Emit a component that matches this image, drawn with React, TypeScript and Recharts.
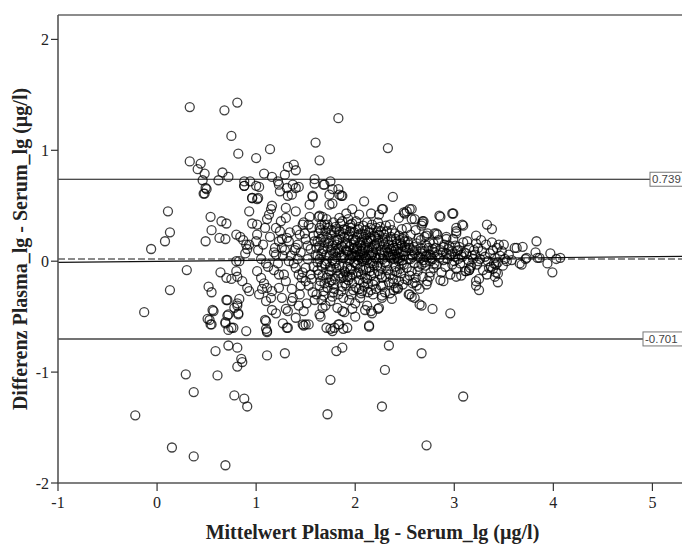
import { ScatterChart, Scatter, XAxis, YAxis, ReferenceLine, Label } from 'recharts';

const serif = '"Liberation Serif", "Times New Roman", serif';
const sans = '"Liberation Sans", Arial, sans-serif';

const xTicks = [-1, 0, 1, 2, 3, 4, 5];
const yTicks = [-2, -1, 0, 1, 2];
const upperLimit = 0.739;
const lowerLimit = -0.701;
const meanDiff = 0.019;
const regressionStart = { x: -1, y: -0.01 };
const regressionEnd = { x: 5.45, y: 0.045 };

const xTitle = 'Mittelwert Plasma_lg - Serum_lg (µg/l)';
const yTitle = 'Differenz Plasma_lg - Serum_lg (µg/l)';

// [mittelwert, differenz]
const outliersHigh = [
  [0.33, 1.39], [0.68, 1.36], [0.81, 1.43], [1.83, 1.29], [0.75, 1.13], [1.6, 1.07], [1.14, 1.01],
  [2.33, 1.02], [0.82, 0.97], [1.0, 0.93], [1.64, 0.91], [0.33, 0.9], [0.44, 0.88], [0.41, 0.83],
  [0.48, 0.79], [0.66, 0.8], [0.72, 0.76], [0.46, 0.73], [0.62, 0.73], [0.5, 0.65], [0.48, 0.61],
  [1.08, 0.79], [1.16, 0.76], [1.32, 0.85], [1.38, 0.87], [1.4, 0.82], [1.29, 0.78], [1.22, 0.72],
  [1.24, 0.63], [1.03, 0.67], [0.88, 0.72], [0.94, 0.72], [0.88, 0.68], [0.96, 0.57], [1.02, 0.57],
  [1.43, 0.67], [1.37, 0.69], [1.32, 0.59], [1.59, 0.74], [1.68, 0.69], [1.75, 0.72], [1.83, 0.65],
  [1.57, 0.58], [2.38, 0.58], [1.74, 0.6], [1.87, 0.59], [0.47, 0.61], [0.49, 0.66], [1.0, 0.68],
];

const outliersLow = [
  [-0.22, -1.39], [0.15, -1.68], [0.37, -1.76], [0.69, -1.84], [0.29, -1.02], [0.37, -1.18],
  [0.61, -1.03], [0.78, -1.21], [0.88, -1.24], [0.91, -1.31], [0.59, -0.81], [0.72, -0.76],
  [0.81, -0.78], [0.85, -0.88], [0.86, -0.91], [0.81, -0.95], [1.11, -0.85], [1.29, -0.83],
  [1.75, -1.07], [1.72, -1.38], [1.81, -0.81], [1.87, -0.78], [2.34, -0.76], [2.3, -0.98],
  [2.27, -1.31], [2.67, -0.83], [2.72, -1.66], [3.09, -1.22],
];

const leftScatter = [
  [-0.06, 0.11], [0.11, 0.45], [0.13, 0.26], [0.08, 0.18], [0.3, -0.08], [0.13, -0.26], [-0.13, -0.46],
  [0.54, 0.4], [0.55, 0.28], [0.49, 0.18], [0.65, 0.36], [0.7, 0.34], [0.63, 0.21], [0.69, 0.2],
  [0.8, 0.24], [0.84, 0.22], [0.87, 0.19], [0.9, 0.15], [0.91, 0.11], [0.89, 0.07], [0.8, 0.0],
  [0.83, 0.0], [0.64, -0.1], [0.7, -0.15], [0.75, -0.16], [0.8, -0.09], [0.81, -0.14], [0.52, -0.23],
  [0.55, -0.28], [0.71, -0.35], [0.81, -0.4], [0.83, -0.34], [0.78, -0.42], [0.57, -0.45], [0.51, -0.52],
  [0.54, -0.57], [0.69, -0.55], [0.72, -0.48], [0.75, -0.6], [0.82, -0.48], [0.9, -0.63], [0.93, -0.27],
  [0.91, -0.24], [0.86, -0.18], [0.93, 0.45], [0.96, 0.57], [1.01, 0.56], [0.88, 0.68], [0.96, 0.34],
  [1.01, 0.33], [1.01, 0.24], [1.0, 0.18], [0.93, 0.15], [0.56, -0.44], [0.53, -0.53], [0.55, -0.57],
  [0.7, -0.35], [0.71, -0.49], [0.69, -0.56], [0.72, -0.62], [0.77, -0.6], [0.82, -0.47], [0.81, -0.38],
];

const band1to16 = [
  [1.01, -0.09], [1.05, -0.15], [1.1, -0.02], [1.08, -0.2], [1.11, -0.24], [1.03, -0.3], [1.1, -0.36],
  [1.16, -0.27], [1.2, -0.47], [1.1, -0.54], [1.11, -0.63], [1.3, -0.43], [1.32, -0.6], [1.4, -0.51],
  [1.47, -0.57], [1.48, -0.45], [1.36, -0.36], [1.26, -0.33], [1.23, -0.24], [1.13, 0.42], [1.15, 0.47],
  [1.16, 0.5], [1.11, 0.38], [1.2, 0.3], [1.25, 0.36], [1.3, 0.39], [1.31, 0.21], [1.23, 0.18],
  [1.26, 0.12], [1.2, 0.06], [1.33, 0.0], [1.4, 0.12], [1.44, 0.24], [1.47, 0.33], [1.4, 0.45],
  [1.3, 0.48], [1.36, 0.6], [1.4, 0.66], [1.23, 0.69], [1.31, 0.66], [1.23, -0.12], [1.3, -0.18],
  [1.43, -0.12], [1.5, -0.18], [1.5, -0.06], [1.4, -0.06], [1.11, -0.64], [1.1, -0.61], [1.09, -0.53],
  [1.16, -0.44], [1.31, -0.6], [1.27, -0.56], [1.32, -0.45], [1.48, -0.58], [1.53, -0.57],
  [1.02, 0.1], [1.05, 0.02], [1.07, 0.15], [1.12, -0.05], [1.14, 0.22], [1.18, 0.08], [1.22, -0.02],
  [1.26, 0.2], [1.28, -0.12], [1.19, 0.12], [1.24, 0.27], [1.06, -0.25], [1.15, -0.33], [1.27, 0.05],
  [1.09, 0.3], [1.35, 0.05], [1.38, -0.02], [1.42, 0.15], [1.45, 0.08], [1.47, -0.1], [1.5, 0.2],
  [1.52, 0.02], [1.53, -0.22], [1.55, 0.11], [1.56, 0.3], [1.58, -0.05], [1.59, 0.18], [1.36, -0.25],
  [1.41, 0.28], [1.44, -0.3], [1.48, 0.35], [1.51, -0.38], [1.54, 0.4], [1.57, -0.28], [1.6, 0.06],
  [1.33, 0.18], [1.39, 0.1], [1.46, -0.15], [1.49, 0.25], [1.55, -0.12], [1.58, 0.23], [1.37, -0.33],
  [1.43, -0.4], [1.53, 0.33], [1.59, -0.35], [1.54, 0.51], [1.57, 0.59], [1.59, 0.7],
  [1.18, -0.08], [1.34, 0.26], [1.45, -0.22], [1.52, 0.14], [1.56, -0.16], [1.29, 0.1], [1.42, 0.02],
];

const band16to19 = [
  [1.61, 0.12], [1.62, -0.08], [1.63, 0.25], [1.64, 0.02], [1.65, -0.18], [1.66, 0.33], [1.67, 0.09],
  [1.68, -0.27], [1.69, 0.17], [1.7, -0.03], [1.71, 0.38], [1.72, 0.21], [1.73, -0.12], [1.74, 0.05],
  [1.75, -0.36], [1.76, 0.28], [1.77, 0.14], [1.78, -0.21], [1.79, 0.0], [1.8, 0.31], [1.81, -0.06],
  [1.82, 0.19], [1.83, -0.3], [1.84, 0.08], [1.85, 0.24], [1.86, -0.15], [1.87, 0.36], [1.88, 0.03],
  [1.89, -0.09], [1.9, 0.16], [1.61, -0.3], [1.63, 0.4], [1.64, -0.22], [1.66, 0.07], [1.68, 0.22],
  [1.7, -0.4], [1.72, 0.12], [1.73, 0.3], [1.75, -0.05], [1.76, 0.1], [1.78, 0.35], [1.79, -0.25],
  [1.81, 0.04], [1.82, -0.42], [1.84, 0.27], [1.85, -0.11], [1.87, 0.13], [1.88, -0.33], [1.89, 0.22],
  [1.62, 0.18], [1.65, 0.28], [1.67, -0.13], [1.69, -0.02], [1.71, 0.06], [1.74, -0.19], [1.77, 0.01],
  [1.8, -0.16], [1.83, 0.11], [1.86, 0.05], [1.9, -0.2], [1.64, 0.14], [1.66, -0.35], [1.69, 0.33],
  [1.72, -0.24], [1.74, 0.18], [1.77, -0.32], [1.79, 0.26], [1.81, 0.15], [1.84, -0.04], [1.87, -0.23],
  [1.89, 0.29], [1.62, -0.01], [1.67, 0.4], [1.71, -0.15], [1.76, -0.08], [1.8, 0.09], [1.85, 0.34],
  [1.88, -0.14], [1.64, 0.41], [1.74, 0.51], [1.77, 0.52], [1.84, 0.39], [1.84, 0.6], [1.69, 0.69],
  [1.77, 0.65], [1.86, 0.59], [1.84, -0.57], [1.77, -0.63], [1.71, -0.6], [1.64, -0.48], [1.5, -0.57],
  [1.87, -0.45], [1.67, -0.42], [1.75, -0.61], [1.79, -0.6], [1.88, -0.61], [1.83, -0.57],
  [1.89, -0.46], [1.65, -0.5],
];

const band19to22 = [
  [1.91, 0.1], [1.92, -0.05], [1.93, 0.22], [1.94, 0.01], [1.95, -0.14], [1.96, 0.3], [1.97, 0.07],
  [1.98, -0.26], [1.99, 0.17], [2.0, -0.02], [2.01, 0.36], [2.02, 0.13], [2.03, -0.1], [2.04, 0.04],
  [2.05, -0.33], [2.06, 0.25], [2.07, 0.09], [2.08, -0.19], [2.09, 0.02], [2.1, 0.28], [2.11, -0.07],
  [2.12, 0.18], [2.13, -0.28], [2.14, 0.06], [2.15, 0.21], [2.16, -0.13], [2.17, 0.33], [2.18, 0.0],
  [2.19, -0.04], [2.2, 0.15], [1.91, -0.22], [1.93, 0.38], [1.94, -0.35], [1.96, 0.05], [1.98, 0.2],
  [2.0, -0.38], [2.02, 0.11], [2.03, 0.29], [2.05, -0.06], [2.06, 0.14], [2.08, 0.32], [2.09, -0.23],
  [2.11, 0.03], [2.12, -0.4], [2.14, 0.26], [2.15, -0.09], [2.17, 0.12], [2.18, -0.3], [2.19, 0.23],
  [1.92, 0.16], [1.95, 0.27], [1.97, -0.12], [1.99, -0.01], [2.01, 0.08], [2.04, -0.17], [2.07, 0.0],
  [2.1, -0.15], [2.13, 0.1], [2.16, 0.05], [2.2, -0.18], [1.92, 0.09], [1.94, 0.13], [1.96, -0.08],
  [1.98, 0.04], [2.0, 0.19], [2.02, -0.03], [2.04, 0.24], [2.06, -0.12], [2.08, 0.07], [2.1, 0.12],
  [2.12, 0.01], [2.14, -0.06], [2.16, 0.2], [2.18, 0.08], [2.2, 0.03], [1.93, -0.17], [1.97, 0.34],
  [2.01, -0.24], [2.05, 0.17], [2.09, 0.22], [2.13, -0.2], [2.17, -0.02], [1.95, 0.02], [1.99, 0.12],
  [2.03, 0.06], [2.07, -0.27], [2.11, 0.16], [2.15, 0.3], [2.19, -0.11], [1.97, 0.47], [2.09, 0.54],
  [2.16, 0.43], [2.04, 0.42], [1.91, 0.43], [2.17, -0.47], [2.14, -0.59], [1.92, -0.6], [1.97, -0.43],
  [2.14, -0.58], [2.16, -0.45], [2.0, -0.5], [2.1, -0.44],
];

const band22to25 = [
  [2.21, 0.11], [2.22, -0.04], [2.23, 0.2], [2.24, 0.03], [2.25, -0.12], [2.26, 0.27], [2.27, 0.08],
  [2.28, -0.22], [2.29, 0.15], [2.3, -0.01], [2.31, 0.32], [2.32, 0.12], [2.33, -0.08], [2.34, 0.05],
  [2.35, -0.29], [2.36, 0.22], [2.37, 0.09], [2.38, -0.16], [2.39, 0.02], [2.4, 0.25], [2.41, -0.05],
  [2.42, 0.16], [2.43, -0.24], [2.44, 0.07], [2.45, 0.19], [2.46, -0.11], [2.47, 0.29], [2.48, 0.01],
  [2.49, -0.03], [2.5, 0.13], [2.21, -0.25], [2.23, 0.35], [2.25, 0.06], [2.27, -0.31], [2.29, 0.24],
  [2.31, -0.14], [2.33, 0.18], [2.35, 0.04], [2.37, 0.28], [2.39, -0.2], [2.41, 0.1], [2.43, 0.02],
  [2.45, -0.07], [2.47, 0.14], [2.49, 0.22], [2.22, 0.16], [2.26, -0.06], [2.3, 0.09], [2.34, -0.19],
  [2.38, 0.14], [2.42, -0.1], [2.46, 0.08], [2.5, -0.16], [2.24, 0.24], [2.28, 0.02], [2.32, -0.02],
  [2.36, 0.11], [2.4, 0.06], [2.44, 0.0], [2.48, 0.2], [2.28, 0.47], [2.27, 0.47], [2.24, 0.42],
  [2.44, 0.39], [2.5, 0.43], [2.43, -0.25], [2.3, -0.28], [2.23, -0.43], [2.24, -0.42], [2.27, -0.33],
  [2.41, -0.24], [2.37, -0.34], [2.44, -0.18],
];

const band25to28 = [
  [2.51, 0.09], [2.52, -0.06], [2.53, 0.18], [2.54, 0.02], [2.55, -0.13], [2.56, 0.24], [2.57, 0.06],
  [2.58, -0.2], [2.59, 0.13], [2.6, -0.02], [2.61, 0.28], [2.62, 0.1], [2.63, -0.09], [2.64, 0.04],
  [2.65, -0.25], [2.66, 0.19], [2.67, 0.07], [2.68, -0.14], [2.69, 0.01], [2.7, 0.22], [2.71, -0.04],
  [2.72, 0.14], [2.73, -0.18], [2.74, 0.06], [2.75, 0.17], [2.76, -0.1], [2.77, 0.03], [2.78, 0.11],
  [2.79, -0.06], [2.8, 0.08], [2.52, 0.3], [2.55, 0.12], [2.58, 0.04], [2.61, -0.15], [2.64, 0.21],
  [2.67, -0.03], [2.7, 0.09], [2.73, 0.25], [2.76, 0.0], [2.79, 0.16], [2.53, -0.17], [2.57, -0.09],
  [2.62, -0.22], [2.66, 0.12], [2.71, 0.04], [2.75, -0.14], [2.55, 0.47], [2.49, 0.44], [2.6, 0.38],
  [2.68, 0.34], [2.69, 0.36], [2.52, 0.45], [2.57, 0.47], [2.57, 0.38], [2.68, 0.36], [2.67, 0.32],
  [2.72, 0.23], [2.57, -0.32], [2.54, -0.3], [2.55, -0.3], [2.6, -0.33], [2.67, -0.4], [2.78, -0.43],
  [2.65, -0.39], [2.72, -0.21],
];

const band28to32 = [
  [2.81, 0.12], [2.82, -0.03], [2.84, 0.19], [2.85, 0.03], [2.87, -0.1], [2.88, 0.08], [2.9, 0.15],
  [2.91, -0.05], [2.93, 0.02], [2.94, 0.11], [2.96, -0.12], [2.97, 0.06], [2.99, 0.2], [3.0, 0.0],
  [3.02, -0.07], [3.03, 0.09], [3.05, 0.13], [3.06, -0.02], [3.08, 0.04], [3.09, 0.17], [3.11, -0.09],
  [3.12, 0.07], [3.14, 0.01], [3.15, 0.12], [3.17, -0.04], [3.18, 0.05], [3.2, 0.1], [2.83, 0.24],
  [2.86, -0.17], [2.89, 0.01], [2.92, 0.22], [2.95, 0.05], [2.98, -0.03], [3.01, 0.14], [3.04, 0.02],
  [3.07, -0.13], [3.1, 0.08], [3.13, 0.18], [3.16, -0.06], [3.19, 0.02], [2.86, 0.4], [2.85, 0.41],
  [2.99, 0.43], [2.98, 0.43], [3.08, 0.33], [3.09, 0.32], [3.02, 0.27], [3.02, 0.25], [2.92, 0.2],
  [2.82, 0.25], [2.8, 0.25], [3.02, 0.3], [2.96, -0.47], [2.89, -0.18], [3.02, -0.14], [3.12, -0.09],
  [3.15, -0.08],
];

const coreExtra = [
  [1.62, 0.05], [1.63, -0.12], [1.65, 0.2], [1.66, -0.04], [1.68, 0.11], [1.69, -0.2], [1.7, 0.27],
  [1.71, 0.0], [1.73, 0.16], [1.74, -0.09], [1.75, 0.24], [1.76, -0.17], [1.78, 0.07], [1.79, 0.19],
  [1.8, -0.02], [1.82, 0.1], [1.83, -0.13], [1.84, 0.2], [1.86, 0.14], [1.87, -0.05], [1.88, 0.25],
  [1.89, 0.04], [1.9, -0.1], [1.91, 0.28], [1.92, -0.14], [1.93, 0.06], [1.94, 0.24], [1.95, -0.07],
  [1.96, 0.15], [1.97, -0.2], [1.98, 0.11], [1.99, 0.26], [2.0, 0.05], [2.01, -0.11], [2.02, 0.22],
  [2.03, 0.01], [2.04, -0.25], [2.05, 0.09], [2.06, 0.03], [2.07, 0.19], [2.08, -0.08], [2.09, 0.13],
  [2.1, 0.04], [2.11, 0.24], [2.12, -0.16], [2.13, 0.17], [2.14, 0.12], [2.15, -0.02], [2.16, 0.26],
  [2.17, 0.06], [2.18, -0.21], [2.19, 0.14], [2.2, 0.22], [2.21, 0.02], [2.22, 0.26], [2.23, -0.09],
  [2.24, 0.14], [2.25, 0.31], [2.26, 0.1], [2.27, -0.15], [2.28, 0.18], [2.29, 0.05], [2.3, 0.21],
  [2.31, -0.04], [2.32, 0.27], [2.33, 0.08], [2.34, 0.15], [2.35, -0.12], [2.36, 0.03], [2.37, 0.19],
  [2.38, 0.06], [2.39, 0.12], [2.4, -0.09], [2.41, 0.2], [2.42, 0.04], [2.43, 0.11], [2.44, 0.23],
  [2.45, 0.03], [2.46, 0.16], [2.47, -0.02], [2.48, 0.09], [2.49, 0.05], [2.5, 0.18], [2.52, 0.12],
  [2.54, 0.15], [2.56, 0.02], [2.58, 0.1], [2.6, 0.07], [2.62, 0.16], [2.64, -0.05], [2.66, 0.03],
  [2.68, 0.09], [2.7, -0.01], [2.72, 0.05], [2.74, 0.12], [2.76, 0.06], [2.78, 0.02], [2.8, -0.02],
  [2.83, 0.06], [2.86, 0.1], [2.89, 0.13], [2.92, 0.07], [2.95, 0.14], [2.98, 0.09], [3.01, 0.04],
  [3.04, 0.1], [3.07, 0.06], [1.64, 0.3], [1.72, 0.33], [1.81, 0.29], [1.95, 0.33], [2.04, 0.31],
  [2.12, 0.35], [2.21, 0.3], [2.35, 0.33], [1.68, -0.31], [1.78, -0.28], [1.86, -0.27], [1.96, -0.3],
  [2.06, -0.29], [2.16, -0.26], [2.26, -0.22], [2.39, -0.26], [2.48, -0.21], [2.6, -0.19],
];

const rightTail = [
  [3.21, 0.06], [3.23, -0.03], [3.24, 0.12], [3.26, 0.02], [3.28, 0.09], [3.29, -0.08], [3.31, 0.04],
  [3.32, 0.15], [3.34, 0.0], [3.36, 0.07], [3.37, -0.05], [3.39, 0.1], [3.41, 0.03], [3.43, 0.12],
  [3.44, -0.01], [3.46, 0.05], [3.48, 0.09], [3.49, -0.04], [3.51, 0.02], [3.55, 0.06], [3.58, 0.01],
  [3.27, 0.19], [3.33, -0.12], [3.38, 0.17], [3.42, -0.1], [3.33, 0.33], [3.38, 0.29], [3.83, 0.18],
  [3.61, 0.12], [3.69, 0.13], [3.5, 0.15], [3.97, 0.07], [4.07, 0.03], [3.94, -0.02], [3.66, -0.02],
  [3.82, 0.08], [3.84, 0.03], [3.72, 0.02], [3.53, 0.0], [3.4, -0.02], [3.24, 0.0], [3.25, -0.16],
  [3.22, -0.22], [3.25, -0.26], [3.44, -0.11], [3.99, -0.1], [3.39, -0.07], [3.22, 0.23], [3.45, 0.15],
  [3.22, 0.16], [3.63, 0.12], [4.03, 0.02], [3.86, 0.03], [3.73, 0.03], [3.68, -0.03], [3.42, -0.03],
  [3.35, -0.06], [3.44, -0.19], [3.41, -0.14], [3.22, -0.18], [3.15, -0.08],
];

const points = [
  ...outliersHigh, ...outliersLow, ...leftScatter, ...band1to16, ...band16to19, ...band19to22,
  ...band22to25, ...band25to28, ...band28to32, ...coreExtra, ...rightTail,
].map(([m, d]) => ({ m, d }));

// eslint-disable-next-line @typescript-eslint/no-explicit-any
const Ring = ({ cx, cy }: any) => (
  <circle cx={cx} cy={cy} r={4.5} fill="none" stroke="#000" strokeOpacity={0.75} strokeWidth={1.3} />
);

// boxed value label at the right edge of a limit line
const limitLabel = (text: string, shift: number) =>
  // eslint-disable-next-line @typescript-eslint/no-explicit-any
  ({ viewBox }: any) => {
    const left = viewBox.x + viewBox.width - shift;
    return (
      <g>
        <rect x={left} y={viewBox.y - 7} width={52} height={14} fill="#fff" stroke="#777" strokeWidth={1} />
        <text x={left + 2} y={viewBox.y + 4} fontSize={11.5} fontFamily={sans} fill="#444">
          {text}
        </text>
      </g>
    );
  };

export default function App() {
  return (
    <div style={{ position: 'absolute', left: 0, top: 0, width: 682, height: 545, overflow: 'hidden', background: '#fff' }}>
      <ScatterChart width={700} height={545} margin={{ top: 15, right: 3, bottom: 0, left: 0 }}>
        <XAxis
          dataKey="m"
          type="number"
          domain={[-1, 5.45]}
          ticks={xTicks}
          interval={0}
          allowDataOverflow
          height={62}
          tickSize={8}
          tickMargin={6}
          tick={{ fontFamily: serif, fontSize: 16, fill: '#222' }}
          axisLine={{ stroke: '#555', strokeWidth: 1.6 }}
          tickLine={{ stroke: '#333', strokeWidth: 1.2 }}
        >
          <Label
            // eslint-disable-next-line @typescript-eslint/no-explicit-any
            content={({ viewBox }: any) => (
              <text x={viewBox.x + viewBox.width / 2 - 5} y={viewBox.y + 56} textAnchor="middle" fontFamily={serif} fontSize={20} fontWeight="bold" fill="#222">
                {xTitle}
              </text>
            )}
          />
        </XAxis>
        <YAxis
          dataKey="d"
          type="number"
          domain={[-2, 2.22]}
          ticks={yTicks}
          interval={0}
          allowDataOverflow
          width={58}
          tickSize={7}
          tick={{ fontFamily: serif, fontSize: 16, fill: '#222' }}
          axisLine={{ stroke: '#555', strokeWidth: 1.6 }}
          tickLine={{ stroke: '#333', strokeWidth: 1.2 }}
        >
          <Label
            // eslint-disable-next-line @typescript-eslint/no-explicit-any
            content={({ viewBox }: any) => {
              const cy = viewBox.y + viewBox.height / 2;
              return (
                <text x={20} y={cy} transform={`rotate(-90, 20, ${cy})`} textAnchor="middle" dominantBaseline="central" fontFamily={serif} fontSize={20} fontWeight="bold" fill="#222">
                  {yTitle}
                </text>
              );
            }}
          />
        </YAxis>
        <ReferenceLine y={2.22} stroke="#666" strokeWidth={1.6} />
        <Scatter data={points} shape={Ring} isAnimationActive={false} />
        <ReferenceLine y={meanDiff} stroke="#8a8a8a" strokeWidth={2} strokeDasharray="7 3" />
        <ReferenceLine segment={[regressionStart, regressionEnd]} stroke="#111" strokeWidth={1.2} />
        <ReferenceLine y={upperLimit} stroke="#111" strokeWidth={1.2} label={limitLabel(String(upperLimit), 47)} />
        <ReferenceLine y={lowerLimit} stroke="#444" strokeWidth={1.4} label={limitLabel(String(lowerLimit), 54)} />
      </ScatterChart>
    </div>
  );
}
